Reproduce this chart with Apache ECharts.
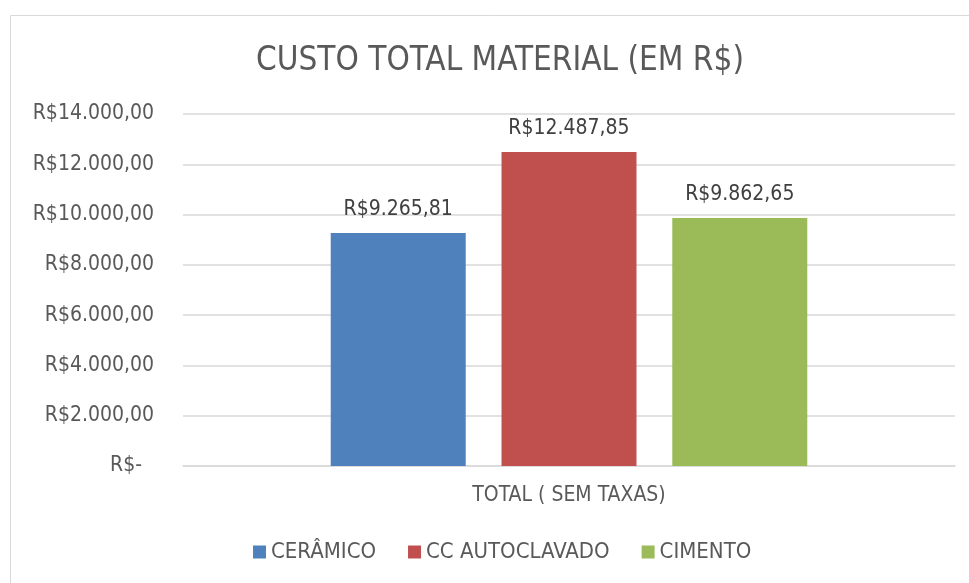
<!DOCTYPE html>
<html>
<head>
<meta charset="utf-8">
<script src="https://cdn.jsdelivr.net/npm/echarts@6/dist/echarts.min.js"></script>
<style>
  html, body { margin: 0; padding: 0; background: #fff; }
  #main { width: 969px; height: 583px; }
</style>
</head>
<body>
<div id="main"></div>
<script>
var dom = document.getElementById('main');
var myChart = echarts.init(dom, null, { renderer: 'canvas' });

const categories = ['TOTAL ( SEM TAXAS)'];
const seriesNames = ['CERÂMICO', 'CC AUTOCLAVADO', 'CIMENTO'];
const ceramico = [9265.81];
const ccAutoclavado = [12487.85];
const cimento = [9862.65];
const colors = ['#4F81BD', '#C0504D', '#9BBB59'];

const font = '"Liberation Sans Narrow", "DejaVu Sans Condensed", "Noto Sans", sans-serif';

// brazilian currency format, e.g. R$12.487,85
function brl(v) {
  if (v === 0) return 'R$-  ';
  var parts = v.toFixed(2).split('.');
  var intPart = parts[0].replace(/\B(?=(\d{3})+(?!\d))/g, '.');
  return 'R$' + intPart + ',' + parts[1];
}

function barSeries(name, data, color) {
  return {
    name: name,
    type: 'bar',
    data: data,
    barWidth: 135,
    barGap: '26.5%',
    itemStyle: { color: color },
    label: {
      show: true,
      position: 'top',
      distance: 13,
      color: '#404040',
      fontSize: 21,
      fontFamily: font,
      formatter: function (p) { return brl(p.value); }
    }
  };
}

var option = {
  animation: false,
  color: colors,
  graphic: [
    {
      type: 'rect',
      shape: { x: 10.5, y: 15.5, width: 1000, height: 1000 },
      style: { fill: 'none', stroke: '#d9d9d9', lineWidth: 1 },
      silent: true
    }
  ],
  title: {
    text: 'CUSTO TOTAL MATERIAL (EM R$)',
    left: 495,
    textAlign: 'center',
    top: 40,
    textStyle: {
      color: '#595959',
      fontSize: 33,
      fontWeight: 'normal',
      fontFamily: font
    }
  },
  legend: {
    bottom: 15,
    left: 248,
    itemWidth: 13,
    itemHeight: 13,
    itemGap: 32,
    icon: 'rect',
    textStyle: { color: '#595959', fontSize: 22, fontFamily: font },
    data: seriesNames
  },
  grid: { left: 183, right: 14, top: 114, bottom: 117 },
  xAxis: {
    type: 'category',
    data: categories,
    axisLine: { lineStyle: { color: '#d9d9d9', width: 1.5 } },
    axisTick: { show: false },
    axisLabel: { color: '#595959', fontSize: 21, fontFamily: font, margin: 19 }
  },
  yAxis: {
    type: 'value',
    min: 0,
    max: 14000,
    interval: 2000,
    axisLine: { show: false },
    axisTick: { show: false },
    splitLine: { lineStyle: { color: '#d9d9d9', width: 1.5 } },
    axisLabel: {
      color: '#595959',
      fontSize: 21,
      fontFamily: font,
      margin: 29,
      formatter: brl
    }
  },
  series: [
    barSeries(seriesNames[0], ceramico, colors[0]),
    barSeries(seriesNames[1], ccAutoclavado, colors[1]),
    barSeries(seriesNames[2], cimento, colors[2])
  ]
};

myChart.setOption(option);
window.addEventListener('resize', myChart.resize);
</script>
</body>
</html>
